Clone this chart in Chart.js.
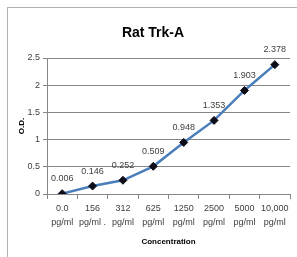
<!DOCTYPE html>
<html><head><meta charset="utf-8">
<script src="https://cdn.jsdelivr.net/npm/chart.js@4/dist/chart.umd.min.js"></script>
<style>
html,body{margin:0;padding:0;background:#fff;}
#wrap{position:relative;width:297px;height:257px;overflow:hidden;}
#frame{position:absolute;left:7px;top:7px;width:300px;height:260px;border:1px solid #b0b0b0;box-sizing:border-box;pointer-events:none;}
canvas{position:absolute;left:0;top:0;}
</style></head>
<body>
<div id="wrap"><canvas id="c" width="297" height="257"></canvas><div id="frame"></div></div>
<script>
const chartTitle = 'Rat Trk-A';
const categories = [["0.0","pg/ml"],["156","pg/ml ."],["312","pg/ml"],["625","pg/ml"],["1250","pg/ml"],["2500","pg/ml"],["5000","pg/ml"],["10,000","pg/ml"]];
const odValues = [0.006, 0.146, 0.252, 0.509, 0.948, 1.353, 1.903, 2.378];
const valueLabels = ["0.006","0.146","0.252","0.509","0.948","1.353","1.903","2.378"];
const yTickValues = [0, 0.5, 1, 1.5, 2, 2.5];

const FONT = '"Liberation Sans Narrow", "Liberation Sans", Arial, sans-serif';
const TXT = '#404040';

const labelPlugin = {
  id: 'valLabels',
  afterDatasetsDraw(chart) {
    const ctx = chart.ctx;
    const meta = chart.getDatasetMeta(0);
    ctx.save();
    ctx.font = '9px ' + FONT;
    ctx.fillStyle = TXT;
    ctx.textAlign = 'center';
    ctx.textBaseline = 'middle';
    meta.data.forEach((pt, i) => {
      ctx.fillText(valueLabels[i], pt.x, pt.y - 15);
    });
    ctx.restore();
  }
};

const titlePlugin = {
  id: 'offsetTitle',
  afterDraw(chart) {
    const ctx = chart.ctx;
    ctx.save();
    ctx.font = 'bold 14px ' + FONT;
    ctx.fillStyle = '#000';
    ctx.textAlign = 'center';
    ctx.textBaseline = 'middle';
    ctx.fillText(chartTitle, 153, 33);
    ctx.restore();
  }
};

new Chart(document.getElementById('c'), {
  type: 'line',
  data: {
    labels: categories,
    datasets: [{
      data: odValues,
      borderColor: '#4a7ebb',
      borderWidth: 2.5,
      tension: 0,
      pointStyle: 'rectRot',
      pointRadius: 4,
      pointBackgroundColor: '#0d0d1a',
      pointBorderColor: '#0d0d1a',
      pointBorderWidth: 1,
      fill: false
    }]
  },
  options: {
    responsive: false,
    animation: false,
    devicePixelRatio: 1,
    layout: { padding: { left: 0, right: 7, top: 58, bottom: 0 } },
    plugins: {
      legend: { display: false },
      tooltip: { enabled: false },
      title: { display: false }
    },
    scales: {
      x: {
        type: 'category',
        offset: true,
        afterFit(s) { s.height = 63; },
        grid: { offset: true, drawOnChartArea: false, drawTicks: true, tickLength: 5, color: '#868686' },
        border: { display: true, color: '#868686', width: 1 },
        ticks: { color: TXT, font: { family: FONT, size: 9, lineHeight: 1.55 }, padding: 3, maxRotation: 0, autoSkip: false },
        title: { display: true, text: 'Concentration', color: '#000', font: { family: FONT, size: 8, weight: 'bold', lineHeight: 1.2 }, padding: { top: 0, bottom: 10 } }
      },
      y: {
        min: 0, max: 2.5,
        afterFit(s) { s.width = 47; },
        afterBuildTicks(s) { s.ticks = yTickValues.map(v => ({ value: v })); },
        grid: { color: '#868686', drawTicks: true, tickLength: 4, lineWidth: 1 },
        border: { display: true, color: '#868686', width: 1 },
        ticks: { color: TXT, font: { family: FONT, size: 9 }, padding: 3, callback: v => String(v) },
        title: { display: true, text: 'O.D.', color: '#000', font: { family: FONT, size: 8, weight: 'bold', lineHeight: 1.2 }, padding: { top: 17, bottom: 0 } }
      }
    }
  },
  plugins: [labelPlugin, titlePlugin]
});
</script>
</body></html>
